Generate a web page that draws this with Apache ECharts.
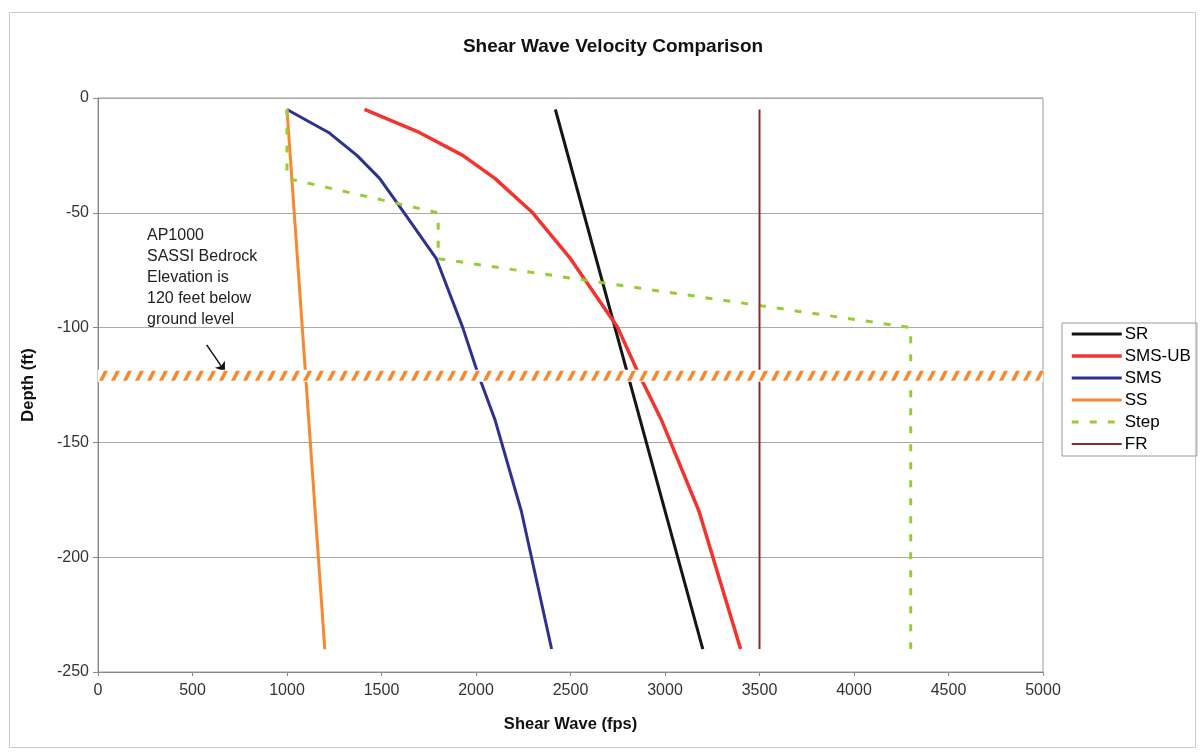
<!DOCTYPE html>
<html>
<head>
<meta charset="utf-8">
<script src="https://cdn.jsdelivr.net/npm/echarts@6/dist/echarts.min.js"></script>
<style>
html,body{margin:0;padding:0;background:#fff;}
#chart{width:1200px;height:752px;}
</style>
</head>
<body>
<div id="chart"></div>
<script>
// ---- data ----
const depths = [-5, -15, -25, -35, -50, -70, -100, -120, -140, -180, -240];
const smsValues = [1000, 1220, 1370, 1490, 1620, 1790, 1930, 2010, 2100, 2240, 2400];
const smsUbValues = [1410, 1700, 1930, 2100, 2300, 2500, 2750, 2860, 2980, 3180, 3400];
const srVel = [2420, 3200];
const srDepth = [-5, -240];
const ssVel = [1000, 1200];
const ssDepth = [-5, -240];
const frVel = [3500, 3500];
const frDepth = [-5, -240];
const stepVel = [1000, 1000, 1800, 1800, 4300, 4300];
const stepDepth = [-5, -35, -50, -70, -100, -240];
const bedrockDepth = -121;
const arrowFrom = [575, -107.5];
const arrowTo = [672, -119.2];
const xTicks = [0, 500, 1000, 1500, 2000, 2500, 3000, 3500, 4000, 4500, 5000];
const yTicks = [0, -50, -100, -150, -200, -250];
const annotation = ['AP1000', 'SASSI Bedrock', 'Elevation is', '120 feet below', 'ground level'];

const zip = (xs, ys) => xs.map((x, i) => [x, ys[i]]);

const chart = echarts.init(document.getElementById('chart'));
const FONT = 'Liberation Sans, Arial, sans-serif';

const option = {
  backgroundColor: '#fff',
  animation: false,
  title: {
    text: 'Shear Wave Velocity Comparison',
    left: 608, top: 32, textAlign: 'center',
    textStyle: { fontFamily: FONT, fontSize: 19, fontWeight: 'bold', color: '#111' }
  },
  grid: {
    left: 98, right: 157, top: 98, bottom: 80,
    show: true, borderColor: '#999', borderWidth: 1
  },
  legend: {
    data: ['SR', 'SMS-UB', 'SMS', 'SS', 'Step', 'FR'],
    orient: 'vertical', left: 1062, top: 323,
    itemWidth: 50, itemHeight: 6, itemGap: 4,
    padding: [2, 6, 3, 8],
    borderColor: '#999', borderWidth: 1,
    itemStyle: { opacity: 0 },
    lineStyle: { width: 'inherit' },
    textStyle: { fontFamily: FONT, fontSize: 17, color: '#000', lineHeight: 18, padding: [0, 0, 0, -2] }
  },
  xAxis: {
    type: 'value', min: xTicks[0], max: xTicks[xTicks.length - 1], interval: 500,
    name: 'Shear Wave (fps)', nameLocation: 'middle', nameGap: 44,
    nameTextStyle: { fontFamily: FONT, fontSize: 16.5, fontWeight: 'bold', color: '#111' },
    axisLine: { show: true, onZero: false, lineStyle: { color: '#888' } },
    axisTick: { show: true, length: 4, lineStyle: { color: '#888' } },
    axisLabel: { fontFamily: FONT, fontSize: 16, color: '#333', margin: 11, formatter: v => String(v) },
    splitLine: { show: false }
  },
  yAxis: {
    type: 'value', min: yTicks[yTicks.length - 1], max: yTicks[0], interval: 50,
    name: 'Depth (ft)', nameLocation: 'middle', nameGap: 61, nameRotate: 90,
    nameTextStyle: { fontFamily: FONT, fontSize: 16.5, fontWeight: 'bold', color: '#111' },
    axisLine: { show: true, onZero: false, lineStyle: { color: '#888' } },
    axisTick: { show: true, length: 5, lineStyle: { color: '#888' } },
    axisLabel: { fontFamily: FONT, fontSize: 16, color: '#333', margin: 9, formatter: v => String(v) },
    splitLine: { show: true, lineStyle: { color: '#aaa', width: 1 } }
  },
  graphic: [
    {
      type: 'rect', left: 7, top: 10, silent: true, z: -10,
      shape: { width: 1186, height: 735 },
      style: { fill: 'none', stroke: '#ccc', lineWidth: 1 }
    },
    {
      type: 'text', left: 147, top: 225, z: 10,
      style: { text: annotation.join('\n'), font: '16px ' + FONT, fill: '#222', lineHeight: 21 }
    }
  ],
  series: [
    {
      name: 'SR', type: 'line', data: zip(srVel, srDepth), showSymbol: false, symbol: 'none',
      lineStyle: { color: '#151515', width: 3 }, itemStyle: { color: '#151515' }, z: 3
    },
    {
      name: 'SMS-UB', type: 'line', data: zip(smsUbValues, depths), showSymbol: false, symbol: 'none',
      lineStyle: { color: '#f5332e', width: 3.5 }, itemStyle: { color: '#f5332e' }, z: 3
    },
    {
      name: 'SMS', type: 'line', data: zip(smsValues, depths), showSymbol: false, symbol: 'none',
      lineStyle: { color: '#2e3192', width: 3 }, itemStyle: { color: '#2e3192' }, z: 3
    },
    {
      name: 'SS', type: 'line', data: zip(ssVel, ssDepth), showSymbol: false, symbol: 'none',
      lineStyle: { color: '#f7882f', width: 3 }, itemStyle: { color: '#f7882f' }, z: 3
    },
    {
      name: 'Step', type: 'line', data: zip(stepVel, stepDepth), showSymbol: false, symbol: 'none',
      lineStyle: { color: '#99cc33', width: 3, type: [7, 11] }, itemStyle: { color: '#99cc33' }, z: 3
    },
    {
      name: 'FR', type: 'line', data: zip(frVel, frDepth), showSymbol: false, symbol: 'none',
      lineStyle: { color: '#8b2a2a', width: 2 }, itemStyle: { color: '#8b2a2a' }, z: 3
    },
    {
      name: 'bedrock', type: 'custom', z: 6, silent: true,
      data: [[xTicks[0], xTicks[xTicks.length - 1], bedrockDepth]],
      renderItem: function (params, api) {
        const p0 = api.coord([api.value(0), api.value(2)]);
        const p1 = api.coord([api.value(1), api.value(2)]);
        const y = p0[1];
        const children = [{
          type: 'rect', shape: { x: p0[0], y: y - 6, width: p1[0] - p0[0], height: 12 },
          style: { fill: '#fff' }
        }];
        const period = 12;
        for (let x = p0[0] + 1; x < p1[0] - 2; x += period) {
          const pts = [[x, y + 5], [x + 4, y + 5], [x + 9, y - 5], [x + 5, y - 5]];
          children.push({ type: 'polygon', shape: { points: pts }, style: { fill: '#f7882f' } });
        }
        return {
          type: 'group', children: children,
          clipPath: { type: 'rect', shape: { x: p0[0], y: y - 7, width: p1[0] - p0[0], height: 14 } }
        };
      }
    },
    {
      name: 'arrow', type: 'line', data: [], z: 7,
      markLine: {
        silent: true, symbol: ['none', 'arrow'], symbolSize: 9, animation: false,
        label: { show: false },
        lineStyle: { color: '#111', width: 1.5, type: 'solid' },
        data: [[{ coord: arrowFrom }, { coord: arrowTo }]]
      }
    }
  ]
};
chart.setOption(option);
</script>
</body>
</html>
